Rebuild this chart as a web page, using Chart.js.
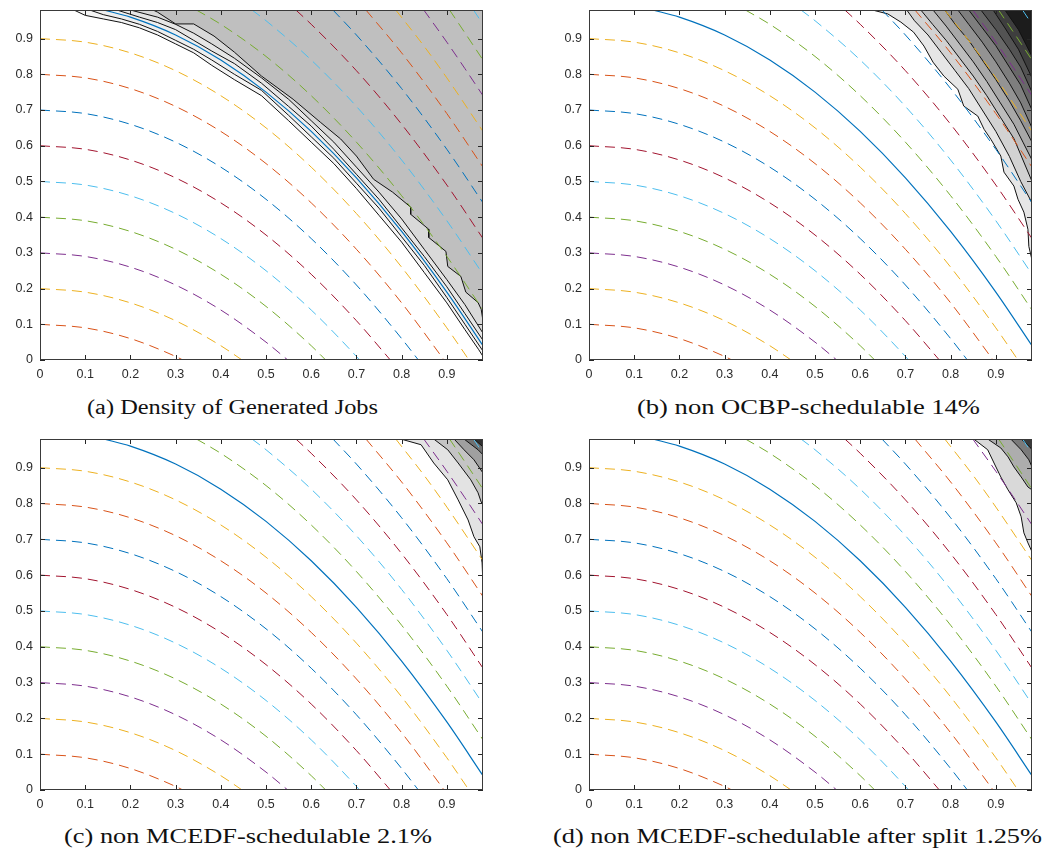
<!DOCTYPE html>
<html><head><meta charset="utf-8">
<script src="https://cdn.jsdelivr.net/npm/chart.js@4.4.0/dist/chart.umd.min.js"></script>
<style>
body{margin:0;background:#fff;width:1048px;height:854px;position:relative;overflow:hidden}
canvas{position:absolute}
.cap{position:absolute;font-family:"Liberation Serif","Times New Roman",serif;font-size:20px;line-height:20px;color:#111;white-space:nowrap;transform-origin:0 0}
</style></head><body>
<canvas id="pa" width="500" height="385" style="left:0;top:0"></canvas>
<canvas id="pb" width="500" height="385" style="left:549px;top:0"></canvas>
<canvas id="pc" width="500" height="385" style="left:0;top:430px"></canvas>
<canvas id="pd" width="500" height="385" style="left:549px;top:430px"></canvas>
<div class="cap" id="capa" data-w="291" style="left:87px;top:397px">(a) Density of Generated Jobs</div>
<div class="cap" id="capb" data-w="343" style="left:637px;top:397px">(b) non OCBP-schedulable 14%</div>
<div class="cap" id="capc" data-w="368" style="left:64px;top:826px">(c) non MCEDF-schedulable 2.1%</div>
<div class="cap" id="capd" data-w="489" style="left:553px;top:826px">(d) non MCEDF-schedulable after split 1.25%</div>
<script>
// ---------- axes ----------
const axisMax = 0.98;
const tickVals = [0, 0.1, 0.2, 0.3, 0.4, 0.5, 0.6, 0.7, 0.8, 0.9];
const tickLabels = ['0', '0.1', '0.2', '0.3', '0.4', '0.5', '0.6', '0.7', '0.8', '0.9'];
const lineColors = ['#0072BD', '#D95319', '#EDB120', '#7E2F8E', '#77AC30', '#4DBEEE', '#A2142F'];

// ---------- dashed iso-curves ----------
const lv01 = [[0,0.10],[0.1,0.09],[0.2,0.06],[0.3,0.01],[0.316,0]];
const lv02 = [[0,0.20],[0.1,0.19],[0.2,0.16],[0.3,0.11],[0.4,0.04],[0.447,0]];
const lv03 = [[0,0.30],[0.1,0.29],[0.2,0.26],[0.3,0.21],[0.4,0.14],[0.5,0.05],[0.548,0]];
const lv04 = [[0,0.40],[0.1,0.39],[0.2,0.36],[0.3,0.31],[0.4,0.24],[0.5,0.15],[0.6,0.04],[0.632,0]];
const lv05 = [[0,0.50],[0.1,0.49],[0.2,0.46],[0.3,0.41],[0.4,0.34],[0.5,0.25],[0.6,0.14],[0.7,0.01],[0.707,0]];
const lv06 = [[0,0.60],[0.1,0.59],[0.2,0.56],[0.3,0.51],[0.4,0.44],[0.5,0.35],[0.6,0.24],[0.7,0.11],[0.775,0]];
const lv07 = [[0,0.70],[0.1,0.69],[0.2,0.66],[0.3,0.61],[0.4,0.54],[0.5,0.45],[0.6,0.34],[0.7,0.21],[0.8,0.06],[0.837,0]];
const lv08 = [[0,0.80],[0.1,0.79],[0.2,0.76],[0.3,0.71],[0.4,0.64],[0.5,0.55],[0.6,0.44],[0.7,0.31],[0.8,0.16],[0.894,0]];
const lv09 = [[0,0.90],[0.1,0.89],[0.2,0.86],[0.3,0.81],[0.4,0.74],[0.5,0.65],[0.6,0.54],[0.7,0.41],[0.8,0.26],[0.9,0.09],[0.949,0]];
const lv11 = [[0.346,0.98],[0.4,0.94],[0.5,0.85],[0.6,0.74],[0.7,0.61],[0.8,0.46],[0.9,0.29],[0.98,0.14]];
const lv12 = [[0.469,0.98],[0.5,0.95],[0.6,0.84],[0.7,0.71],[0.8,0.56],[0.9,0.39],[0.98,0.24]];
const lv13 = [[0.566,0.98],[0.6,0.94],[0.7,0.81],[0.8,0.66],[0.9,0.49],[0.98,0.34]];
const lv14 = [[0.648,0.98],[0.7,0.91],[0.8,0.76],[0.9,0.59],[0.98,0.44]];
const lv15 = [[0.721,0.98],[0.8,0.86],[0.9,0.69],[0.98,0.54]];
const lv16 = [[0.787,0.98],[0.85,0.878],[0.9,0.79],[0.98,0.64]];
const lv17 = [[0.849,0.98],[0.9,0.89],[0.94,0.816],[0.98,0.74]];
const lv18 = [[0.906,0.98],[0.94,0.916],[0.98,0.84]];
const lv19 = [[0.959,0.98],[0.98,0.94]];
const dashCurves = [lv01, lv02, lv03, lv04, lv05, lv06, lv07, lv08, lv09, lv11, lv12, lv13, lv14, lv15, lv16, lv17, lv18, lv19];
const dashColorIdx = [1, 2, 3, 4, 5, 6, 0, 1, 2, 4, 5, 6, 0, 1, 2, 3, 4, 5];

// solid boundary curve
const boundary = [[0.141,0.98],[0.2,0.96],[0.3,0.91],[0.4,0.84],[0.5,0.75],[0.6,0.64],[0.7,0.51],[0.8,0.36],[0.9,0.19],[0.98,0.04]];

// ---------- contour lines, panel (a) ----------
const a1 = [[0.075,0.98],[0.10,0.965],[0.14,0.955],[0.18,0.945],[0.22,0.93],[0.26,0.91],[0.30,0.885],[0.34,0.86],[0.38,0.825],[0.43,0.785],[0.49,0.74],[0.55,0.67],[0.60,0.61],[0.65,0.55],[0.70,0.48],[0.75,0.405],[0.80,0.33],[0.85,0.245],[0.90,0.16],[0.94,0.085],[0.97,0.03],[0.98,0.01]];
const a2 = [[0.11,0.98],[0.14,0.967],[0.18,0.955],[0.22,0.94],[0.26,0.92],[0.30,0.895],[0.34,0.87],[0.38,0.84],[0.43,0.80],[0.49,0.755],[0.55,0.685],[0.60,0.625],[0.65,0.565],[0.70,0.495],[0.75,0.425],[0.80,0.345],[0.85,0.265],[0.90,0.175],[0.94,0.10],[0.98,0.025]];
const a3 = [[0.17,0.98],[0.22,0.96],[0.26,0.945],[0.30,0.925],[0.34,0.895],[0.38,0.865],[0.43,0.83],[0.49,0.775],[0.55,0.71],[0.60,0.655],[0.65,0.59],[0.70,0.52],[0.75,0.45],[0.80,0.37],[0.85,0.29],[0.90,0.205],[0.94,0.13],[0.98,0.055]];
const a4 = [[0.20,0.98],[0.26,0.96],[0.30,0.94],[0.34,0.915],[0.38,0.885],[0.43,0.845],[0.49,0.79],[0.55,0.73],[0.60,0.67],[0.65,0.61],[0.70,0.54],[0.75,0.47],[0.80,0.395],[0.85,0.31],[0.90,0.225],[0.94,0.155],[0.98,0.075]];
const a5 = [[0.25,0.98],[0.26,0.974],[0.30,0.941],[0.34,0.941],[0.385,0.907],[0.43,0.862],[0.49,0.795],[0.56,0.73],[0.62,0.666],[0.665,0.619],[0.70,0.571],[0.738,0.506],[0.78,0.47],[0.82,0.428],[0.82,0.408],[0.86,0.366],[0.86,0.343],[0.898,0.304],[0.902,0.262],[0.931,0.234],[0.942,0.19],[0.969,0.161],[0.976,0.142],[0.98,0.109]];
const aLines = [a1, a2, a3, a4, a5];
const aShades = ['#f5f5f5', '#eeeeee', '#e6e6e6', '#d9d9d9', '#bfbfbf'];

// ---------- panel (b) ----------
const b1 = [[0.627,0.98],[0.661,0.969],[0.690,0.946],[0.718,0.918],[0.741,0.879],[0.761,0.834],[0.785,0.795],[0.816,0.758],[0.829,0.711],[0.860,0.683],[0.874,0.646],[0.889,0.618],[0.911,0.571],[0.918,0.526],[0.940,0.487],[0.949,0.450],[0.962,0.414],[0.971,0.366],[0.973,0.318],[0.98,0.28]];
const b2 = [[0.703,0.98],[0.72,0.95],[0.75,0.91],[0.78,0.86],[0.81,0.81],[0.84,0.76],[0.87,0.70],[0.90,0.64],[0.93,0.57],[0.955,0.50],[0.98,0.44]];
const b3 = [[0.734,0.98],[0.76,0.94],[0.79,0.895],[0.82,0.845],[0.85,0.795],[0.88,0.74],[0.91,0.68],[0.94,0.62],[0.96,0.56],[0.98,0.50]];
const b4 = [[0.761,0.98],[0.79,0.935],[0.82,0.885],[0.85,0.835],[0.88,0.78],[0.91,0.72],[0.94,0.66],[0.96,0.61],[0.98,0.56]];
const b5 = [[0.787,0.98],[0.81,0.94],[0.84,0.895],[0.87,0.84],[0.90,0.785],[0.93,0.725],[0.955,0.67],[0.98,0.61]];
const b6 = [[0.816,0.98],[0.84,0.94],[0.87,0.89],[0.90,0.835],[0.93,0.775],[0.955,0.72],[0.98,0.65]];
const b7 = [[0.84,0.98],[0.87,0.93],[0.90,0.88],[0.93,0.82],[0.955,0.77],[0.98,0.70]];
const b8 = [[0.867,0.98],[0.90,0.925],[0.93,0.87],[0.955,0.82],[0.98,0.75]];
const b9 = [[0.894,0.98],[0.92,0.93],[0.95,0.87],[0.98,0.79]];
const b10 = [[0.92,0.98],[0.95,0.925],[0.98,0.85]];
const bLines = [b1, b2, b3, b4, b5, b6, b7, b8, b9, b10];
const bShades = ['#e6e6e6', '#d2d2d2', '#bdbdbd', '#a8a8a8', '#939393', '#7e7e7e', '#686868', '#535353', '#3e3e3e', '#1c1c1c'];

// ---------- panel (c) ----------
const c1 = [[0.798,0.98],[0.843,0.964],[0.871,0.913],[0.902,0.866],[0.925,0.810],[0.947,0.754],[0.960,0.707],[0.973,0.679],[0.978,0.634],[0.98,0.57]];
const c2 = [[0.871,0.98],[0.902,0.950],[0.925,0.913],[0.953,0.866],[0.969,0.830],[0.976,0.804],[0.98,0.796]];
const c3 = [[0.916,0.98],[0.938,0.950],[0.960,0.922],[0.98,0.885]];
const c4 = [[0.938,0.98],[0.969,0.950],[0.98,0.936]];
const c5 = [[0.960,0.98],[0.98,0.958]];
const cLines = [c1, c2, c3, c4, c5];
const cShades = ['#e3e3e3', '#c4c4c4', '#a0a0a0', '#707070', '#303030'];

// ---------- panel (d) ----------
const d1 = [[0.851,0.98],[0.882,0.950],[0.896,0.913],[0.911,0.874],[0.927,0.838],[0.945,0.802],[0.956,0.763],[0.962,0.718],[0.971,0.690],[0.98,0.665]];
const d2 = [[0.882,0.98],[0.911,0.955],[0.927,0.930],[0.940,0.902],[0.956,0.874],[0.971,0.846],[0.98,0.838]];
const d3 = [[0.933,0.98],[0.956,0.950],[0.973,0.922],[0.98,0.902]];
const d4 = [[0.956,0.98],[0.975,0.958],[0.98,0.95]];
const dLines = [d1, d2, d3, d4];
const dShades = ['#d9d9d9', '#adadad', '#7a7a7a', '#3a3a3a'];

// ---------- helpers ----------
const toPts = arr => arr.map(p => ({x: p[0], y: p[1]}));

const boxPlugin = {
  id: 'boxTicks',
  afterDatasetsDraw(chart) {
    const {ctx, chartArea: a, scales: {x, y}} = chart;
    ctx.save();
    ctx.strokeStyle = '#262626';
    ctx.lineWidth = 1;
    ctx.beginPath();
    x.ticks.forEach(t => {
      const px = Math.round(x.getPixelForValue(t.value)) + 0.5;
      ctx.moveTo(px, a.bottom); ctx.lineTo(px, a.bottom - 5);
      ctx.moveTo(px, a.top); ctx.lineTo(px, a.top + 5);
    });
    y.ticks.forEach(t => {
      const py = Math.round(y.getPixelForValue(t.value)) + 0.5;
      ctx.moveTo(a.left, py); ctx.lineTo(a.left + 5, py);
      ctx.moveTo(a.right, py); ctx.lineTo(a.right - 5, py);
    });
    ctx.stroke();
    ctx.strokeStyle = '#3a3a3a';
    ctx.strokeRect(Math.round(a.left) + 0.5, Math.round(a.top) + 0.5, Math.round(a.width) - 1, Math.round(a.height) - 1);
    ctx.restore();
  }
};

function axisCfg(isX) {
  return {
    type: 'linear', min: 0, max: axisMax,
    grid: {display: false, drawTicks: false},
    border: {display: false},
    afterBuildTicks: s => { s.ticks = tickVals.map(v => ({value: v})); },
    afterFit: s => {
      if (isX) { s.height = 25; } else { s.width = 40; }
      s.paddingLeft = 0; s.paddingRight = 0; s.paddingTop = 0; s.paddingBottom = 0;
    },
    ticks: {
      autoSkip: false, maxRotation: 0,
      padding: isX ? 7 : 7,
      color: '#2b2b2b',
      font: {family: '"Liberation Sans", Arial, sans-serif', size: 12.5},
      callback: v => tickLabels[tickVals.findIndex(t => Math.abs(t - v) < 1e-9)]
    }
  };
}

function makePanel(id, lines, shades, topPad) {
  const ds = [];
  ds.push({data: toPts(boundary), borderColor: '#0072BD', borderWidth: 1.2, pointRadius: 0, fill: false, cubicInterpolationMode: 'monotone'});
  dashCurves.forEach((c, i) => {
    ds.push({data: toPts(c), borderColor: lineColors[dashColorIdx[i]], borderWidth: 1, borderDash: [10, 6], pointRadius: 0, fill: false, cubicInterpolationMode: 'monotone'});
  });
  for (let i = lines.length - 1; i >= 0; i--) {
    ds.push({data: toPts(lines[i]), borderColor: '#111111', borderWidth: 1, pointRadius: 0, fill: 'end', backgroundColor: shades[i], tension: 0});
  }
  new Chart(document.getElementById(id), {
    type: 'line',
    data: {datasets: ds},
    options: {
      responsive: false, animation: false, events: [],
      layout: {padding: {left: 0, right: 17, top: topPad, bottom: 0}},
      plugins: {legend: {display: false}, tooltip: {enabled: false}, filler: {drawTime: 'beforeDatasetsDraw'}},
      scales: {x: axisCfg(true), y: axisCfg(false)}
    },
    plugins: [boxPlugin]
  });
}

makePanel('pa', aLines, aShades, 10);
makePanel('pb', bLines, bShades, 10);
makePanel('pc', cLines, cShades, 9);
makePanel('pd', dLines, dShades, 9);

document.querySelectorAll('.cap').forEach(el => {
  const w = el.getBoundingClientRect().width;
  const target = parseFloat(el.dataset.w);
  el.style.transform = 'scaleX(' + (target / w).toFixed(4) + ')';
});
</script>
</body></html>
